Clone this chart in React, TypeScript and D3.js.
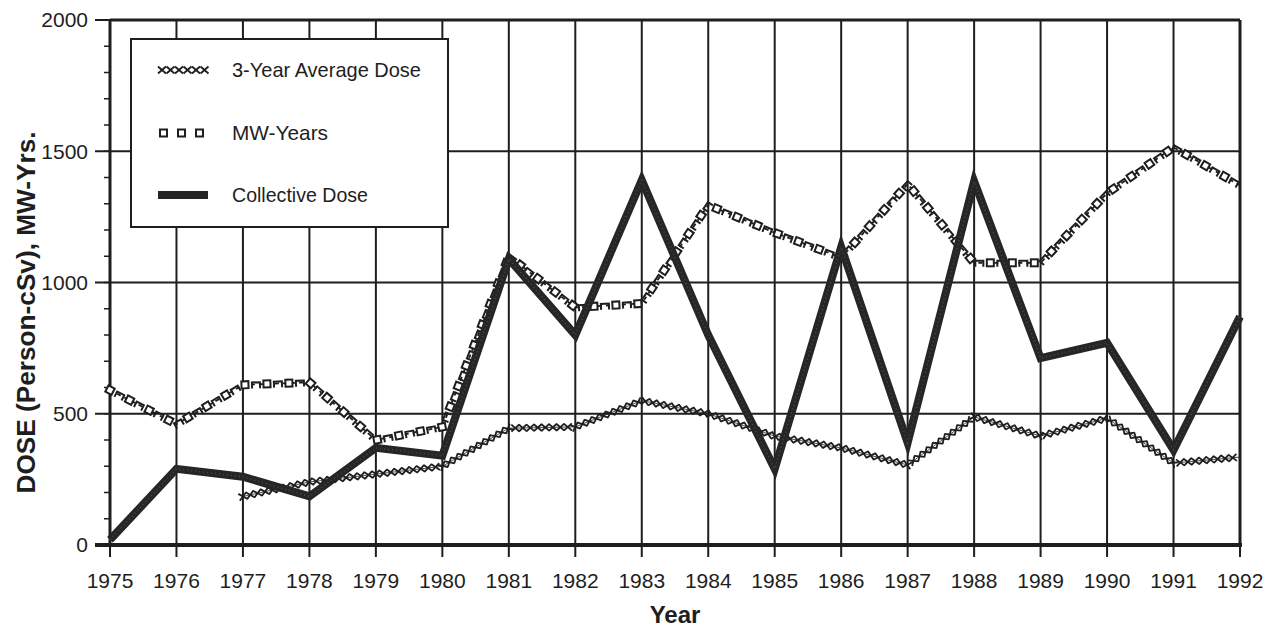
import * as d3 from "d3";
import { useMemo } from "react";

const years = [1975, 1976, 1977, 1978, 1979, 1980, 1981, 1982, 1983, 1984, 1985, 1986, 1987, 1988, 1989, 1990, 1991, 1992];
const collectiveDose = [20, 290, 260, 185, 370, 340, 1090, 800, 1390, 800, 290, 1135, 390, 1385, 712, 770, 362, 870];
const mwYears = [590, 460, 610, 620, 400, 450, 1100, 905, 920, 1295, 1190, 1095, 1375, 1075, 1075, 1340, 1515, 1370];
const avgDose: (number | null)[] = [null, null, 185, 240, 270, 300, 445, 450, 550, 500, 415, 370, 305, 488, 415, 483, 312, 335];
const yTicks = [0, 500, 1000, 1500, 2000];
const yMinorTicks = d3.range(0, 2001, 100);
const legendItems = ["3-Year Average Dose", "MW-Years", "Collective Dose"];
const legendWidths = [189, 96, 136];

const width = 1275;
const height = 635;
const margin = { top: 20, right: 35, bottom: 90, left: 110 };
const ink = "#1e1e1e";
const font = "'Liberation Sans', Arial, sans-serif";

type Pt = [number, number];

// walk along a polyline and return evenly spaced positions with direction
function sample(points: Pt[], step: number) {
  const out: { x: number; y: number; a: number }[] = [];
  let carry = 0;
  for (let i = 0; i < points.length - 1; i++) {
    const [x0, y0] = points[i];
    const [x1, y1] = points[i + 1];
    const len = Math.hypot(x1 - x0, y1 - y0);
    const a = (Math.atan2(y1 - y0, x1 - x0) * 180) / Math.PI;
    let t = carry;
    while (t <= len) {
      out.push({ x: x0 + ((x1 - x0) * t) / len, y: y0 + ((y1 - y0) * t) / len, a });
      t += step;
    }
    carry = t - len;
  }
  return out;
}

function XMark({ x, y, a }: { x: number; y: number; a: number }) {
  return (
    <g transform={`translate(${x},${y}) rotate(${a})`}>
      <line x1={-4} y1={-3.5} x2={4} y2={3.5} stroke={ink} strokeWidth={1.8} />
      <line x1={-4} y1={3.5} x2={4} y2={-3.5} stroke={ink} strokeWidth={1.8} />
    </g>
  );
}

function SquareMark({ x, y, a, i }: { x: number; y: number; a: number; i: number }) {
  return (
    <g transform={`translate(${x},${y}) rotate(${a})`}>
      {i % 2 === 0 ? (
        <rect x={-3.5} y={-3.5} width={7} height={7} fill="white" stroke={ink} strokeWidth={2} />
      ) : (
        <path d="M-4,4 L-4,-2 L4,-2 L4,4" fill="none" stroke={ink} strokeWidth={2} />
      )}
    </g>
  );
}

export default function App() {
  const chart = useMemo(() => {
    const x = d3.scaleLinear().domain([1975, 1992]).range([margin.left, width - margin.right]);
    const y = d3.scaleLinear().domain([0, 2000]).range([height - margin.bottom, margin.top]);
    const line = d3.line<Pt>().x((d) => d[0]).y((d) => d[1]);
    const collectivePts: Pt[] = years.map((yr, i) => [x(yr), y(collectiveDose[i])]);
    const mwPts: Pt[] = years.map((yr, i) => [x(yr), y(mwYears[i])]);
    const avgPts: Pt[] = years.flatMap((yr, i) => (avgDose[i] == null ? [] : [[x(yr), y(avgDose[i] as number)] as Pt]));
    return {
      x,
      y,
      collectivePath: line(collectivePts) ?? "",
      mwPath: line(mwPts) ?? "",
      avgPath: line(avgPts) ?? "",
      avgMarks: sample(avgPts, 7.5),
      mwMarks: sample(mwPts, 11),
    };
  }, []);

  const { x, y } = chart;
  const left = margin.left;
  const right = width - margin.right;
  const top = margin.top;
  const bottom = height - margin.bottom;

  return (
    <svg width={width} height={height} style={{ position: "absolute", left: 0, top: 0, background: "white" }} fontFamily={font}>
      {/* grid */}
      {years.map((yr) => (
        <line key={yr} x1={x(yr)} x2={x(yr)} y1={top} y2={bottom + 12} stroke={ink} strokeWidth={2} />
      ))}
      {yTicks.map((t) => (
        <line key={t} x1={left - 15} x2={right} y1={y(t)} y2={y(t)} stroke={ink} strokeWidth={2} />
      ))}
      {yMinorTicks.map((t) => (
        <line key={`m${t}`} x1={left - 6} x2={left} y1={y(t)} y2={y(t)} stroke={ink} strokeWidth={1.5} />
      ))}

      {/* frame */}
      <line x1={left} x2={right} y1={top} y2={top} stroke={ink} strokeWidth={3} />
      <line x1={left} x2={left} y1={top} y2={bottom} stroke={ink} strokeWidth={3} />
      <line x1={right} x2={right} y1={top} y2={bottom} stroke={ink} strokeWidth={3} />
      <line x1={left - 15} x2={right + 2} y1={bottom} y2={bottom} stroke={ink} strokeWidth={4} />

      {/* 3-year average */}
      <path d={chart.avgPath} fill="none" stroke={ink} strokeWidth={0.8} />
      {chart.avgMarks.map((m, i) => (
        <XMark key={i} {...m} />
      ))}

      {/* MW-years */}
      <path d={chart.mwPath} fill="none" stroke={ink} strokeWidth={1.8} strokeDasharray="4 4" />
      {chart.mwMarks.map((m, i) => (
        <SquareMark key={i} i={i} {...m} />
      ))}

      {/* collective dose */}
      <path d={chart.collectivePath} fill="none" stroke="#262626" strokeWidth={8} strokeLinejoin="miter" />
      <path d={chart.collectivePath} fill="none" stroke="#4a4a4a" strokeWidth={1.5} strokeDasharray="1 3" />

      {/* y tick labels */}
      {yTicks.map((t) => (
        <text key={t} x={left - 22} y={y(t)} dy="0.35em" textAnchor="end" fontSize={21} fill={ink}>
          {t}
        </text>
      ))}
      {/* x tick labels */}
      {years.map((yr) => (
        <text key={yr} x={x(yr)} y={bottom + 43} textAnchor="middle" fontSize={21} fill={ink}>
          {yr}
        </text>
      ))}

      <text x={(left + right) / 2} y={height - 12} textAnchor="middle" fontSize={24} fontWeight="bold" fill={ink}>
        Year
      </text>
      <text
        transform={`translate(35, ${(top + bottom) / 2 + 30}) rotate(-90)`}
        textAnchor="middle"
        fontSize={26}
        fontWeight="bold"
        fill={ink}
        textLength={362}
        lengthAdjust="spacingAndGlyphs"
      >
        DOSE (Person-cSv), MW-Yrs.
      </text>

      {/* legend */}
      <g>
        <rect x={131} y={39} width={317} height={188} fill="white" stroke={ink} strokeWidth={2} />
        {legendItems.map((label, i) => {
          const ly = 70 + i * 62.5;
          return (
            <g key={label}>
              {i === 0 && d3.range(6).map((k) => <XMark key={k} x={162 + k * 8.5} y={ly} a={0} />)}
              {i === 1 &&
                d3.range(3).map((k) => (
                  <rect key={k} x={160 + k * 18} y={ly - 3} width={7} height={7} fill="white" stroke={ink} strokeWidth={2} />
                ))}
              {i === 2 && <rect x={158} y={ly - 4} width={50} height={8} fill="#262626" />}
              <text
                x={232}
                y={ly}
                dy="0.35em"
                fontSize={21}
                fill={ink}
                textLength={legendWidths[i]}
                lengthAdjust="spacingAndGlyphs"
              >
                {label}
              </text>
            </g>
          );
        })}
      </g>
    </svg>
  );
}
